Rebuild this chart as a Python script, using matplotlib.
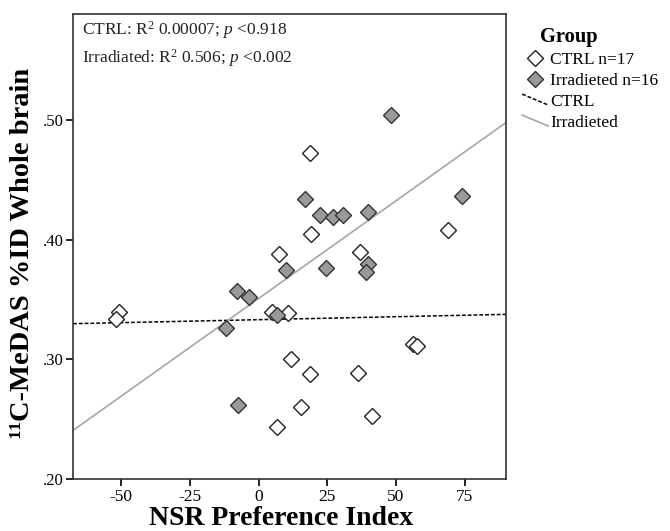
import numpy as np
import matplotlib
matplotlib.use("Agg")
import matplotlib.pyplot as plt
from matplotlib.lines import Line2D
from matplotlib.legend_handler import HandlerLine2D

plt.rcParams['font.family'] = ['Liberation Serif', 'DejaVu Serif']
plt.rcParams['mathtext.fontset'] = 'custom'
plt.rcParams['mathtext.rm'] = 'Liberation Serif'
plt.rcParams['mathtext.it'] = 'Liberation Serif:italic'
plt.rcParams['mathtext.bf'] = 'Liberation Serif:bold'
plt.rcParams['axes.unicode_minus'] = False

# CTRL group (open diamonds)
ctrl_x = [18.7, 19.1, 7.4, 37.0, 68.8, -50.6, -51.7, 4.9, 10.7, 11.8,
          18.7, 36.2, 56.3, 57.7, 41.3, 15.4, 6.7]
ctrl_y = [0.473, 0.405, 0.388, 0.390, 0.408, 0.340, 0.3335, 0.340, 0.3385, 0.300,
          0.2875, 0.2883, 0.3125, 0.311, 0.2527, 0.2603, 0.2435]

# Irradiated group (filled diamonds)
irr_x = [16.9, 22.4, 27.1, 30.8, 10.0, 24.6, 48.3, 74.2, 39.8, 39.8,
         39.0, -7.9, -3.5, 6.7, -11.9, -7.6]
irr_y = [0.434, 0.4205, 0.419, 0.4205, 0.375, 0.3766, 0.504, 0.4364, 0.423, 0.380,
         0.3733, 0.357, 0.352, 0.337, 0.326, 0.262]

# fit lines as shown in the chart (slope, intercept)
ctrl_fit = (0.0000495, 0.3332)
irr_fit = (0.001634, 0.3509)

x_ticks = [-50, -25, 0, 25, 50, 75]
y_ticks = [0.20, 0.30, 0.40, 0.50]
y_ticklabels = ['.20', '.30', '.40', '.50']


class SlantHandler(HandlerLine2D):
    # SPSS-style slanted line in the legend
    def create_artists(self, legend, orig_handle, xdescent, ydescent,
                       width, height, fontsize, trans):
        line = Line2D([-xdescent, width - xdescent],
                      [height - ydescent, -ydescent + 0.1 * height])
        self.update_prop(line, orig_handle, legend)
        line.set_transform(trans)
        return [line]


fig = plt.figure(figsize=(6.7, 5.31), dpi=100)
ax = fig.add_axes([0.109, 0.098, 0.646, 0.876])

xlim = (-67.5, 90)
xs = np.array(xlim)

dash = (0, (2.5, 1.3))
ax.plot(xs, ctrl_fit[0] * xs + ctrl_fit[1], color='black', ls=dash, lw=1.1, zorder=2)
ax.plot(xs, irr_fit[0] * xs + irr_fit[1], color='#a6a6a6', lw=1.2, zorder=2)

ax.plot(ctrl_x, ctrl_y, ls='none', marker='D', ms=8, mfc='white', mec='#222222',
        mew=1.0, zorder=3)
ax.plot(irr_x, irr_y, ls='none', marker='D', ms=8, mfc='#999999', mec='#333333',
        mew=1.0, zorder=3)

ax.set_xlim(*xlim)
ax.set_ylim(0.2, 0.589)
ax.set_xticks(x_ticks)
ax.set_yticks(y_ticks)
ax.set_yticklabels(y_ticklabels)
ax.tick_params(direction='out', length=5, width=1.2)
ax.tick_params(axis='x', labelsize=12.5, pad=2.5)
ax.tick_params(axis='y', labelsize=12, pad=1.5)
for s in ax.spines.values():
    s.set_linewidth(1.2)
    s.set_color('#333333')

ax.set_xlabel('NSR Preference Index', fontsize=20, fontweight='bold', labelpad=0.3)
ax.set_ylabel('¹¹C-MeDAS %ID Whole brain', fontsize=20.5, fontweight='bold', labelpad=5.5)
ax.xaxis.label.set_x(0.48)
ax.yaxis.label.set_y(0.486)

ax.text(0.02, 0.988, 'CTRL: R$^2$ 0.00007; $p$ <0.918\nIrradiated: R$^2$ 0.506; $p$ <0.002',
        transform=ax.transAxes, va='top', ha='left', fontsize=12.5, linespacing=1.35,
        color='#222222')

handles = [
    Line2D([], [], ls='none', marker='D', ms=8, mfc='white', mec='#222222'),
    Line2D([], [], ls='none', marker='D', ms=8, mfc='#999999', mec='#333333'),
    Line2D([], [], color='black', ls=dash, lw=1.1),
    Line2D([], [], color='#a6a6a6', lw=1.2),
]
labels = ['CTRL n=17', 'Irradieted n=16', 'CTRL', 'Irradieted']
fig.text(540 / 670, 1 - 37 / 531, 'Group', fontsize=14.8, fontweight='bold',
         ha='left', va='center')
fig.legend(handles, labels, loc='upper left', bbox_to_anchor=(0.769, 0.915),
           frameon=False, fontsize=12.5, handlelength=1.5, handletextpad=0.12,
           labelspacing=0.28, borderaxespad=0,
           handler_map={handles[2]: SlantHandler(), handles[3]: SlantHandler()})

fig.savefig('out.png', dpi=100)
